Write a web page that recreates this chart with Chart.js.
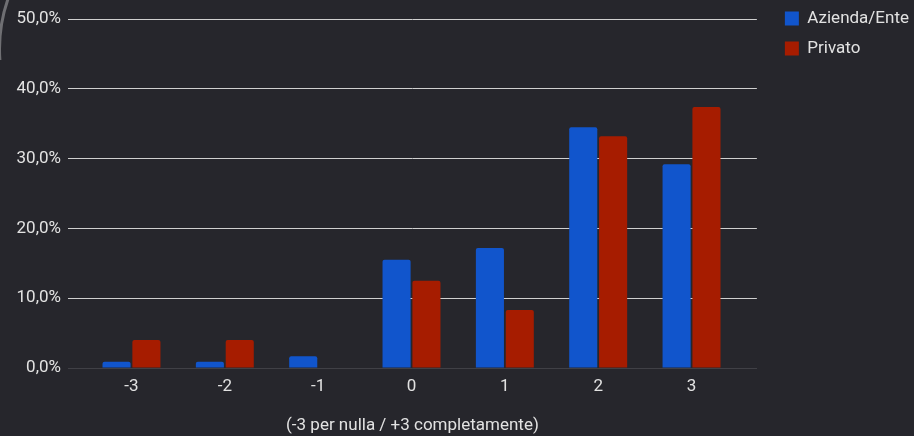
<!DOCTYPE html>
<html>
<head>
<meta charset="utf-8">
<script src="https://cdn.jsdelivr.net/npm/chart.js@4"></script>
<style>
  html, body { margin: 0; padding: 0; background: #26262c; }
  #wrap { position: relative; width: 914px; height: 436px; overflow: hidden; }
  #arcclip { position: absolute; left: 0; top: 0; width: 30px; height: 60px; overflow: hidden; }
  #arc { position: absolute; left: -2px; top: -104px; width: 300px; height: 300px;
         border: 3px solid #6f6f73; border-radius: 50%; }
</style>
</head>
<body>
<div id="wrap">
  <div id="arcclip"><div id="arc"></div></div>
  <canvas id="myChart" width="914" height="436"></canvas>
</div>
<script>
// categories on the x axis (scale from -3 to +3)
const categories = ['-3', '-2', '-1', '0', '1', '2', '3'];
// percentage of answers
const azienda = [0.9, 0.9, 1.7, 15.5, 17.2, 34.5, 29.2];
const privato = [4.0, 4.0, 0, 12.5, 8.3, 33.2, 37.4];
const yTicks = [0, 10, 20, 30, 40, 50];

const txtColor = '#e2e2e2';
const fontFam = 'Roboto, "Noto Sans", sans-serif';

function toPoints(values)
{
    return categories.map(function(c, i) { return {x: Number(c), y: values[i]}; });
}

document.addEventListener('DOMContentLoaded', function()
{
    const ctx = document.getElementById('myChart').getContext('2d');

    window.myChart = new Chart(ctx, {
        type: 'bar',
        data: {
            datasets: [
                {
                    label: 'Azienda/Ente',
                    data: toPoints(azienda),
                    backgroundColor: '#1155cc',
                    borderRadius: 2,
                    categoryPercentage: 0.64,
                    barPercentage: 0.94
                },
                {
                    label: 'Privato',
                    data: toPoints(privato),
                    backgroundColor: '#a61c00',
                    borderRadius: 2,
                    categoryPercentage: 0.64,
                    barPercentage: 0.94
                }
            ]
        },
        options: {
            responsive: false,
            animation: false,
            layout: { padding: { top: -3, right: -5, left: 0, bottom: 0 } },
            plugins: {
                tooltip: { enabled: false },
                legend: {
                    position: 'right',
                    align: 'start',
                    labels: {
                        boxWidth: 14,
                        boxHeight: 14,
                        padding: 13,
                        color: txtColor,
                        font: { family: fontFam, size: 17 }
                    }
                }
            },
            scales: {
                x: {
                    type: 'linear',
                    offset: false,
                    min: -3.68,
                    max: 3.7,
                    grid: { display: false, drawTicks: false },
                    border: { display: true, color: '#404046', width: 1 },
                    ticks: {
                        stepSize: 1,
                        includeBounds: false,
                        padding: 9,
                        color: txtColor,
                        font: { family: fontFam, size: 17 },
                        callback: function(v) { return categories[categories.indexOf(String(v))]; }
                    },
                    title: {
                        display: true,
                        text: '(-3 per nulla / +3 completamente)',
                        color: txtColor,
                        font: { family: fontFam, size: 17 },
                        padding: { top: 0, bottom: 0 }
                    },
                    afterFit: function(s) { s.height = 68; }
                },
                xTop: {
                    type: 'linear',
                    position: 'top',
                    display: true,
                    grid: { display: false, drawTicks: false },
                    border: { display: false },
                    ticks: { display: false },
                    afterFit: function(s) { s.height = 22; }
                },
                y: {
                    min: 0,
                    max: 50,
                    afterBuildTicks: function(s) { s.ticks = yTicks.map(function(v) { return {value: v}; }); },
                    grid: {
                        drawTicks: false,
                        color: function(c) { return c.tick && c.tick.value === 0 ? '#404046' : '#d0d0d0'; },
                        lineWidth: 1
                    },
                    border: { display: false },
                    ticks: {
                        padding: 7,
                        color: txtColor,
                        font: { family: fontFam, size: 17 },
                        callback: function(v) { return v.toFixed(1).replace('.', ',') + '%'; }
                    },
                    afterFit: function(s) { s.width = 68; }
                },
                yRight: {
                    position: 'right',
                    display: true,
                    grid: { display: false, drawTicks: false },
                    border: { display: false },
                    ticks: { display: false },
                    afterFit: function(s) { s.width = 15; }
                }
            }
        }
    });
});
</script>
</body>
</html>
